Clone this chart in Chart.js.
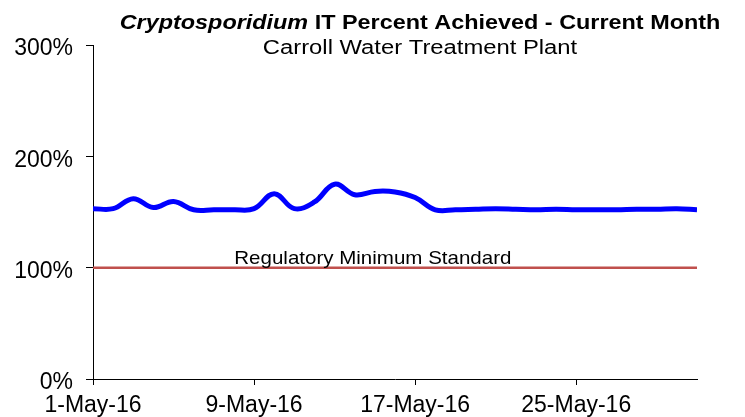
<!DOCTYPE html>
<html>
<head>
<meta charset="utf-8">
<script src="https://cdn.jsdelivr.net/npm/chart.js@4"></script>
<style>
  html, body { margin: 0; padding: 0; background: #fff; }
  #wrap { width: 745px; height: 417px; }
</style>
</head>
<body>
<div id="wrap"><canvas id="itChart" width="745" height="417"></canvas></div>
<script>
// days of May 2016
const days = [1, 2, 3, 4, 5, 6, 7, 8, 9, 10, 11, 12, 13, 14, 15, 16,
  17, 18, 19, 20, 21, 22, 23, 24, 25, 26, 27, 28, 29, 30, 31];
// Crypto IT percent achieved per day
const itPercent = [153, 153, 162, 154, 159.5, 152, 152, 152, 153, 166.5, 153, 159, 175,
  165.5, 168.5, 168, 163, 152, 152, 152.5, 153, 152.5, 152, 152.5, 152, 152,
  152, 152.5, 152.5, 153, 152];
const regMinimum = 100;
const tickDays = [1, 9, 17, 25];
const yTicks = [0, 100, 200, 300];

const titleItalic = "Cryptosporidium";
const titleRest = " IT Percent Achieved - Current Month";
const subtitle = "Carroll Water Treatment Plant";
const regLabel = "Regulatory Minimum Standard";

const FONT = "Arial, 'Liberation Sans', sans-serif";

// text in the original looks a bit wide, so stretch it horizontally
function wideText(ctx, text, cx, y, sx) {
  ctx.save();
  ctx.translate(cx, y);
  ctx.scale(sx, 1);
  ctx.fillText(text, 0, 0);
  ctx.restore();
}

const titlePlugin = {
  id: "titles",
  afterDraw(chart) {
    const ctx = chart.ctx;
    const cx = 420;
    ctx.save();
    ctx.fillStyle = "#000";
    ctx.textBaseline = "alphabetic";

    const sx = 1.17;
    ctx.font = "italic bold 20px " + FONT;
    const w1 = ctx.measureText(titleItalic).width * sx;
    ctx.font = "bold 20px " + FONT;
    const w2 = ctx.measureText(titleRest).width * sx;
    const x = cx - (w1 + w2) / 2;
    ctx.textAlign = "left";
    ctx.font = "italic bold 20px " + FONT;
    wideText(ctx, titleItalic, x, 29, sx);
    ctx.font = "bold 20px " + FONT;
    wideText(ctx, titleRest, x + w1, 29, sx);

    ctx.textAlign = "center";
    ctx.font = "20px " + FONT;
    wideText(ctx, subtitle, cx, 54, 1.19);

    // label above the regulatory line
    const xs = chart.scales.x, ys = chart.scales.y;
    ctx.font = "19px " + FONT;
    wideText(ctx, regLabel, xs.getPixelForValue(14.9), ys.getPixelForValue(regMinimum) - 4, 1.08);
    ctx.restore();
  }
};

new Chart(document.getElementById("itChart").getContext("2d"), {
  type: "line",
  data: {
    datasets: [
      {
        label: "IT Percent Achieved",
        data: days.map((d, i) => ({ x: d, y: itPercent[i] })),
        borderColor: "#0000ff",
        borderWidth: 5,
        pointRadius: 0,
        tension: 0.4,
        fill: false,
      },
      {
        label: "Regulatory Minimum Standard",
        data: days.map((d) => ({ x: d, y: regMinimum })),
        borderColor: "#c0504d",
        borderWidth: 2.5,
        pointRadius: 0,
        fill: false,
      },
    ],
  },
  options: {
    responsive: false,
    animation: false,
    layout: { padding: { top: 45, right: 48, left: 0, bottom: 0 } },
    plugins: { legend: { display: false }, tooltip: { enabled: false } },
    scales: {
      x: {
        type: "linear",
        min: 1,
        max: 31,
        afterBuildTicks: (s) => { s.ticks = tickDays.map((v) => ({ value: v })); },
        afterFit: (s) => { s.height = 38; },
        grid: { drawOnChartArea: false, drawTicks: true, tickLength: 6, color: "#000" },
        border: { color: "#000", width: 1 },
        ticks: {
          color: "#000",
          font: { family: FONT, size: 23 },
          padding: 7,
          maxRotation: 0,
          callback: (v) => v + "-May-16",
        },
      },
      y: {
        min: 0,
        max: 300,
        afterBuildTicks: (s) => { s.ticks = yTicks.map((v) => ({ value: v })); },
        afterFit: (s) => { s.width = 93; },
        grid: { drawOnChartArea: false, drawTicks: true, tickLength: 7, color: "#000" },
        border: { color: "#000", width: 1 },
        ticks: {
          color: "#000",
          font: { family: FONT, size: 23 },
          padding: 13,
          labelOffset: 4,
          callback: (v) => v + "%",
        },
      },
    },
  },
  plugins: [titlePlugin],
});
</script>
</body>
</html>
